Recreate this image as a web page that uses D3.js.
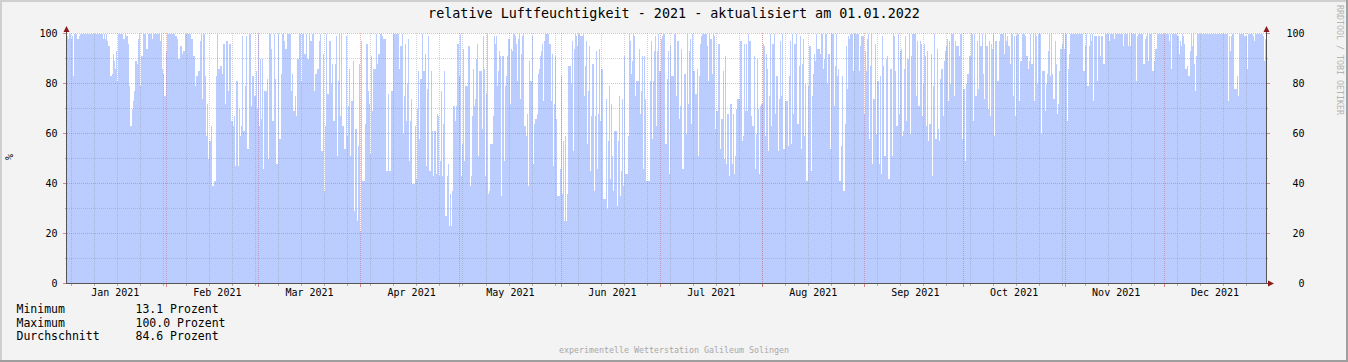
<!DOCTYPE html>
<html><head><meta charset="utf-8">
<script src="https://cdn.jsdelivr.net/npm/d3@7"></script>
<style>
html,body{margin:0;padding:0;background:#f3f3f3;}
svg{display:block;}
text{font-family:'DejaVu Sans Mono',monospace;}
</style></head>
<body><svg id="chart" width="1348" height="362"></svg>
<script>
// relative humidity in %, one value per 8 hours, one array per month of 2021
const jan = [100,100,99,98,100,100,98,99,83,100, 100,98,98,99,100,100,100,100,100,100, 100,100,100,100,100,100,100,100,100,100, 100,100,100,100,100,98,100,98,100,97, 95,83,83,84,92,89,86,93,81,100, 100,100,100,98,98,100,99,99,96,79, 63,70,73,77,89,89,88,98,100,79, 91,100,100,100,94,94,100,100,100,100, 98,100,100,100,100,100,100,97,100,86, 84,75,93];
const feb = [100,100,100,100,100,100,100,100,99,98, 90,90,95,95,92,93,93,100,100,100, 100,100,98,98,91,91,79,83,83,85, 97,100,74,100,100,83,59,72,50,57, 63,39,39,41,41,83,100,86,86,87, 84,96,96,72,97,97,77,96,96,65, 63,67,47,81,81,47,70,59,63,99, 61,79,99,54,54,100,100,71,83,83, 75,85,70,100];
const mar = [63,90,66,90,46,77,77,82,50,100, 100,94,65,65,100,82,48,100,58,58, 84,100,100,97,94,94,100,100,100,77, 84,69,69,75,67,90,90,100,81,100, 100,92,92,100,90,90,100,97,100,100, 77,84,84,86,86,97,100,53,92,37, 63,100,76,76,97,97,80,88,65,88, 99,51,81,100,67,100,63,63,54,99, 59,71,86,51,73,73,89,29,62,25, 55,88,21];
const apr = [97,41,41,41,64,96,77,72,52,91, 69,86,86,86,100,88,92,100,100,99, 98,98,98,45,45,76,45,77,77,100, 100,100,100,100,100,86,95,100,60,75, 96,65,80,98,49,65,74,40,40,63, 42,70,85,58,82,82,100,85,92,47, 78,99,45,45,85,61,43,61,44,68, 67,43,49,77,43,64,85,27,43,48, 23,36,23,37,71,71,65,71,96,83];
const may = [100,43,56,94,49,79,79,79,95,39, 43,67,86,71,74,90,96,51,85,85, 62,99,86,43,76,100,36,37,56,56, 67,99,96,99,79,85,93,91,35,91, 49,79,83,91,98,98,72,94,93,100, 99,96,81,98,100,74,92,99,100,63, 59,68,39,89,81,81,99,48,64,66, 68,84,86,91,93,96,73,97,100,100, 100,96,96,73,92,47,72,91,66,35, 35,46,83];
const jun = [36,57,25,59,25,36,87,87,80,97, 53,94,100,99,95,100,100,99,99,100, 75,87,97,56,77,95,45,67,88,37, 67,93,46,68,94,65,86,86,34,34, 74,30,57,79,42,72,51,37,61,61, 31,57,75,35,45,74,39,91,44,44, 59,100,97,84,89,100,99,75,81,81, 94,68,77,91,46,91,74,41,41,41, 81,97,58,81,93,99,63,93,100,85];
const jul = [98,99,100,100,56,56,82,93,44,95, 83,83,100,100,75,97,97,66,71,94, 46,84,84,60,100,72,93,98,64,100, 85,76,76,86,51,83,96,99,100,100, 100,100,95,81,100,98,98,84,100,99, 62,69,96,96,54,66,66,85,50,91, 48,68,43,72,72,48,68,44,51,70, 74,74,97,97,57,59,96,69,96,69, 100,97,67,63,63,91,46,60,90,70, 44,71,72];
const aug = [96,95,59,92,86,53,75,100,63,96, 100,68,83,83,53,74,97,75,100,54, 73,73,73,55,83,97,56,100,68,96, 100,64,64,87,99,54,88,98,59,80, 41,79,95,95,45,75,84,92,89,100, 94,94,92,100,100,86,90,100,100,80, 92,54,100,100,100,71,87,100,83,86, 41,55,83,37,37,64,95,78,99,98, 100,100,85,100,100,100,100,100,85,95, 99,99,68];
const sep = [93,85,98,100,58,87,100,48,74,96, 60,81,81,48,83,44,99,87,51,90, 91,42,42,86,86,51,100,99,85,63, 100,68,93,94,59,61,86,99,65,90, 100,60,91,100,100,100,100,75,97,71, 97,96,67,80,96,91,63,93,57,64, 92,43,79,100,58,58,94,62,57,82, 86,67,89,93,95,98,73,97,80,100, 100,75,97,95,95,95,91,100,100,58];
const oct = [78,49,80,84,84,91,91,100,100,65, 100,75,97,78,100,95,95,100,84,74, 100,95,70,97,67,96,94,100,59,97, 97,81,97,100,100,100,100,92,100,97, 99,95,88,100,100,75,99,67,99,100, 100,73,89,100,100,100,99,91,91,86, 89,100,88,100,73,100,99,80,100,100, 100,60,85,85,69,80,84,93,100,83, 100,84,74,97,88,68,72,85,94,94, 96,100,94];
const nov = [100,65,86,92,100,100,100,100,100,100, 100,100,100,100,100,100,85,85,95,100, 79,95,100,97,100,73,99,99,99,81, 99,91,99,99,88,88,100,100,100,100, 97,100,100,100,98,100,100,100,100,100, 100,100,95,100,100,100,100,95,100,95, 100,100,100,100,81,99,100,100,100,100, 100,88,98,99,100,89,100,100,100,85, 85,89,94,100,100,100,100,100,100,100];
const dec = [100,100,100,100,97,100,86,100,100,100, 100,100,99,92,97,95,100,99,96,86, 86,87,83,93,100,95,100,88,77,91, 100,100,100,100,100,100,100,100,100,100, 100,100,100,100,100,100,100,100,100,100, 100,100,100,100,100,100,100,100,73,99, 93,99,100,100,78,78,83,75,100,100, 100,100,100,99,99,86,100,100,100,100, 100,99,97,100,100,100,100,100,100,100, 99,89,98];

const monthSeries = [jan, feb, mar, apr, may, jun, jul, aug, sep, oct, nov, dec];
const monthLabels = ["Jan 2021","Feb 2021","Mar 2021","Apr 2021","May 2021","Jun 2021","Jul 2021","Aug 2021","Sep 2021","Oct 2021","Nov 2021","Dec 2021"];
const yTicks = [0, 20, 40, 60, 80, 100];
const yMinorTicks = [10, 30, 50, 70, 90];
const title = "relative Luftfeuchtigkeit - 2021 - aktualisiert am 01.01.2022";
const legendNames = ["Minimum", "Maximum", "Durchschnitt"];
const legendValues = ["13.1 Prozent", "100.0 Prozent", "84.6 Prozent"];
const yUnit = "%";
const footer = "experimentelle Wetterstation Galileum Solingen";
const watermark = "RRDTOOL / TOBI OETIKER";

(function () {
const STEP = 8 * 3600 * 1000;
const DAY = 24 * 3600 * 1000;
const points = [];
monthSeries.forEach((arr, m) => {
  const start = Date.UTC(2021, m, 1);
  arr.forEach((v, k) => points.push({t: new Date(start + k * STEP), v}));
});
points.push({t: new Date(Date.UTC(2022, 0, 1)), v: points[points.length - 1].v});

const svg = d3.select("#chart");
const W = 1348, H = 362;
const PL = 67, PR = 1266, PT = 33, PB = 283;

const x = d3.scaleUtc().domain([new Date(Date.UTC(2021,0,1)), new Date(Date.UTC(2022,0,1))]).range([64.6, 64.6 + 365 * 3.2924]);
const y = d3.scaleLinear().domain([0, 100]).range([283.5, 33.5]);

// background + 3D frame
svg.append("rect").attr("width", W).attr("height", H).attr("fill", "#f3f3f3");
svg.append("rect").attr("x", 0).attr("y", 0).attr("width", W).attr("height", 2).attr("fill", "#cfcfcf");
svg.append("rect").attr("x", 0).attr("y", 0).attr("width", 2).attr("height", H).attr("fill", "#cfcfcf");
svg.append("rect").attr("x", 0).attr("y", H - 2).attr("width", W).attr("height", 2).attr("fill", "#9e9e9e");
svg.append("rect").attr("x", W - 2).attr("y", 0).attr("width", 2).attr("height", H).attr("fill", "#9e9e9e");

// canvas
svg.append("rect").attr("x", PL).attr("y", PT).attr("width", PR - PL).attr("height", PB - PT + 1).attr("fill", "#ffffff");

svg.append("clipPath").attr("id", "clip").append("rect")
  .attr("x", PL).attr("y", PT).attr("width", PR - PL).attr("height", PB - PT + 1);

const area = d3.area()
  .x(d => x(d.t)).y0(y(0)).y1(d => y(d.v))
  .curve(d3.curveStepAfter);
svg.append("path").datum(points)
  .attr("clip-path", "url(#clip)")
  .attr("d", area).attr("fill", "#bbccff").attr("shape-rendering", "crispEdges");

// grid
const g = svg.append("g");
const px = v => Math.floor(v) + 0.5;
const minorCol = "rgba(140,140,140,0.38)", majorCol = "rgba(215,70,70,0.38)";
const weeks = d3.utcSunday.range(new Date(Date.UTC(2021,0,1)), new Date(Date.UTC(2022,0,1)));
weeks.forEach(d => {
  const xx = px(x(d));
  if (xx <= PL || xx >= PR) return;
  g.append("line").attr("x1", xx).attr("x2", xx).attr("y1", PT).attr("y2", PB)
    .attr("stroke", minorCol).attr("stroke-dasharray", "1,1");
  g.append("line").attr("x1", xx).attr("x2", xx).attr("y1", PB + 1).attr("y2", PB + 3)
    .attr("stroke", "rgba(130,130,130,0.6)");
});
yMinorTicks.forEach(v => {
  g.append("line").attr("x1", PL).attr("x2", PR).attr("y1", px(y(v))).attr("y2", px(y(v)))
    .attr("stroke", minorCol).attr("stroke-dasharray", "1,1");
  g.append("line").attr("x1", PL - 2).attr("x2", PL).attr("y1", px(y(v))).attr("y2", px(y(v)))
    .attr("stroke", "rgba(130,130,130,0.6)");
  g.append("line").attr("x1", PR).attr("x2", PR + 2).attr("y1", px(y(v))).attr("y2", px(y(v)))
    .attr("stroke", "rgba(130,130,130,0.6)");
});
const monthStarts = d3.utcMonth.range(new Date(Date.UTC(2021,0,1)), new Date(Date.UTC(2022,0,1)));
monthStarts.forEach(d => {
  const xx = px(x(d));
  if (xx <= PL || xx >= PR) return;
  g.append("line").attr("x1", xx).attr("x2", xx).attr("y1", PT).attr("y2", PB)
    .attr("stroke", majorCol).attr("stroke-dasharray", "1,1");
  g.append("line").attr("x1", xx).attr("x2", xx).attr("y1", PB + 1).attr("y2", PB + 4)
    .attr("stroke", "rgba(210,60,60,0.6)");
});
yTicks.forEach(v => {
  if (v > 0) g.append("line").attr("x1", PL).attr("x2", PR).attr("y1", px(y(v))).attr("y2", px(y(v)))
    .attr("stroke", majorCol).attr("stroke-dasharray", "1,1");
  g.append("line").attr("x1", PL - 4).attr("x2", PL).attr("y1", px(y(v))).attr("y2", px(y(v)))
    .attr("stroke", "rgba(210,60,60,0.6)");
  g.append("line").attr("x1", PR).attr("x2", PR + 4).attr("y1", px(y(v))).attr("y2", px(y(v)))
    .attr("stroke", "rgba(210,60,60,0.6)");
});

// axes
const axisCol = "#555555", arrowCol = "#8b1a1a";
svg.append("line").attr("x1", PL - 0.5).attr("x2", PL - 0.5).attr("y1", PT - 2).attr("y2", PB + 1)
  .attr("stroke", axisCol);
svg.append("line").attr("x1", PR + 0.5).attr("x2", PR + 0.5).attr("y1", PT - 2).attr("y2", PB + 1)
  .attr("stroke", axisCol);
svg.append("line").attr("x1", PL - 1).attr("x2", PR + 3).attr("y1", PB + 0.5).attr("y2", PB + 0.5)
  .attr("stroke", axisCol);
svg.append("path").attr("d", `M${PL-3.5},${PT-1}L${PL+2.5},${PT-1}L${PL-0.5},${PT-7}Z`).attr("fill", arrowCol);
svg.append("path").attr("d", `M${PR-2.5},${PT-1}L${PR+3.5},${PT-1}L${PR+0.5},${PT-7}Z`).attr("fill", arrowCol);
svg.append("path").attr("d", `M${PR+2},${PB-2.5}L${PR+2},${PB+3.5}L${PR+8},${PB+0.5}Z`).attr("fill", arrowCol);

// y labels
yTicks.forEach(v => {
  svg.append("text").attr("x", 57.5).attr("y", y(v)).attr("dy", "0.36em").attr("text-anchor", "end")
    .attr("font-size", "10px").attr("fill", "#000").text(v);
  svg.append("text").attr("x", 1304.5).attr("y", y(v)).attr("dy", "0.36em").attr("text-anchor", "end")
    .attr("font-size", "10px").attr("fill", "#000").text(v);
});
// x labels
monthStarts.forEach((d, i) => {
  const xc = x(new Date(+d + 15.4 * DAY));
  svg.append("text").attr("x", xc).attr("y", 296).attr("text-anchor", "middle")
    .attr("font-size", "10px").attr("fill", "#000").text(monthLabels[i]);
});

// title
svg.append("text").attr("x", W / 2).attr("y", 18).attr("text-anchor", "middle")
  .attr("font-size", "13.4px").attr("fill", "#000").text(title);

// vertical unit label
svg.append("text").attr("transform", "translate(13,157) rotate(-90)").attr("text-anchor", "middle")
  .attr("font-size", "10px").attr("fill", "#000").text(yUnit);

// legend
legendNames.forEach((n, i) => {
  const yy = 313 + i * 13.5;
  svg.append("text").attr("x", 16.5).attr("y", yy).attr("font-size", "11.5px").attr("fill", "#000").text(n);
  svg.append("text").attr("x", 135.5).attr("y", yy).attr("font-size", "11.5px").attr("fill", "#000").text(legendValues[i]);
});

// footer and watermark
svg.append("text").attr("x", W / 2).attr("y", 352.5).attr("text-anchor", "middle")
  .attr("font-size", "8.3px").attr("fill", "#a8a8a8").text(footer);
svg.append("text").attr("transform", "translate(1336.5,5) rotate(90)")
  .attr("font-size", "8.3px").attr("fill", "#b4b4b4").text(watermark);
})();
</script></body></html>
